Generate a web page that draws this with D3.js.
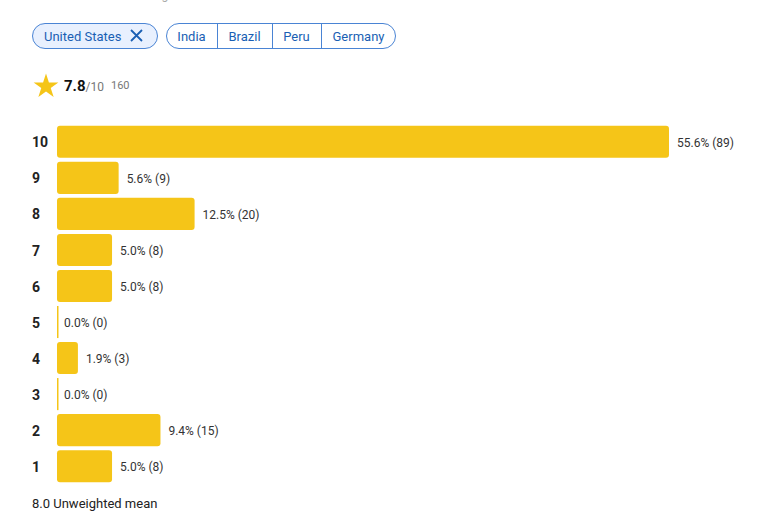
<!DOCTYPE html>
<html>
<head>
<meta charset="utf-8">
<script src="https://cdn.jsdelivr.net/npm/d3@7"></script>
<style>
  body { margin: 0; background: #fff; font-family: Roboto, "Noto Sans", sans-serif; }
</style>
</head>
<body>
<div class="chart"></div>
<script>
var ratings = [10, 9, 8, 7, 6, 5, 4, 3, 2, 1];
var percents = [55.6, 5.6, 12.5, 5.0, 5.0, 0.0, 1.9, 0.0, 9.4, 5.0];
var counts = [89, 9, 20, 8, 8, 0, 3, 0, 15, 8];
var countries = ["India", "Brazil", "Peru", "Germany"];
var selected = "United States";
var score = 7.8, total = 160, mean = "8.0";

var width = 759, height = 525;
var svg = d3.select(".chart").append("svg")
    .attr("width", width)
    .attr("height", height);

// heading cut off by the top edge, only descenders show
svg.append("text")
    .attr("x", 33).attr("y", -1)
    .attr("font-size", 12).attr("fill", "#aaa")
    .text("Distribution of user ratings");

// chips
var chip = svg.append("g");
chip.append("rect")
    .attr("x", 32.5).attr("y", 23.5).attr("width", 125).attr("height", 25)
    .attr("rx", 12.5)
    .attr("fill", "#e8f0fe").attr("stroke", "#4a84d4");
chip.append("text")
    .attr("x", 44).attr("y", 40.5)
    .attr("font-size", 13).attr("fill", "#1a5fb4")
    .text(selected);
chip.append("path")
    .attr("d", "M131,30 L142,41 M142,30 L131,41")
    .attr("stroke", "#1a5fb4").attr("stroke-width", 1.8);

var chipX = [166, 217, 272, 321, 396];
var group = svg.append("g");
group.append("rect")
    .attr("x", 166.5).attr("y", 23.5).attr("width", 229).attr("height", 25)
    .attr("rx", 12.5)
    .attr("fill", "#fff").attr("stroke", "#4a84d4");
group.selectAll("line.div")
    .data(chipX.slice(1, 4))
    .enter().append("line")
    .attr("x1", function(d) { return d + 0.5; })
    .attr("x2", function(d) { return d + 0.5; })
    .attr("y1", 24).attr("y2", 48)
    .attr("stroke", "#4a84d4");
group.selectAll("text")
    .data(countries)
    .enter().append("text")
    .attr("x", function(d, i) { return (chipX[i] + chipX[i + 1]) / 2; })
    .attr("y", 40.5)
    .attr("text-anchor", "middle")
    .attr("font-size", 13).attr("fill", "#1a5fb4")
    .text(String);

// score
var star = d3.symbol().type(d3.symbolStar).size(190);
svg.append("path")
    .attr("d", star())
    .attr("transform", "translate(46,86.5)")
    .attr("fill", "#f5c518");
var st = svg.append("text").attr("x", 64).attr("y", 91);
st.append("tspan").attr("font-size", 15).attr("font-weight", "bold").attr("fill", "#111").text(score.toFixed(1));
st.append("tspan").attr("font-size", 12).attr("fill", "#777").text("/10");
svg.append("text")
    .attr("x", 111).attr("y", 89)
    .attr("font-size", 11).attr("fill", "#777")
    .text(total);

// bars
var x = d3.scaleLinear()
    .domain([0, d3.max(percents)])
    .range([0, 612]);
var y = d3.scaleBand()
    .domain(ratings)
    .range([124, 484])
    .paddingInner(0.11)
    .paddingOuter(0.05);

var rows = svg.selectAll("g.row")
    .data(ratings)
    .enter().append("g")
    .attr("class", "row")
    .attr("transform", function(d) { return "translate(0," + y(d) + ")"; });

rows.append("text")
    .attr("x", 32).attr("y", y.bandwidth() / 2)
    .attr("dy", "0.4em")
    .attr("font-size", 14).attr("font-weight", "bold").attr("fill", "#222")
    .text(String);

rows.append("rect")
    .attr("x", 57).attr("y", 0)
    .attr("width", function(d, i) { return Math.max(1.5, x(percents[i])); })
    .attr("height", y.bandwidth())
    .attr("rx", function(d, i) { return percents[i] > 0 ? 3 : 0; })
    .attr("fill", "#f5c518");

rows.append("text")
    .attr("x", function(d, i) { return 57 + (percents[i] > 0 ? x(percents[i]) + 8 : 7); })
    .attr("y", y.bandwidth() / 2)
    .attr("dy", "0.4em")
    .attr("font-size", 12).attr("fill", "#333")
    .text(function(d, i) { return percents[i].toFixed(1) + "% (" + counts[i] + ")"; });

svg.append("text")
    .attr("x", 32).attr("y", 508)
    .attr("font-size", 13).attr("fill", "#222")
    .text(mean + " Unweighted mean");
</script>
</body>
</html>
